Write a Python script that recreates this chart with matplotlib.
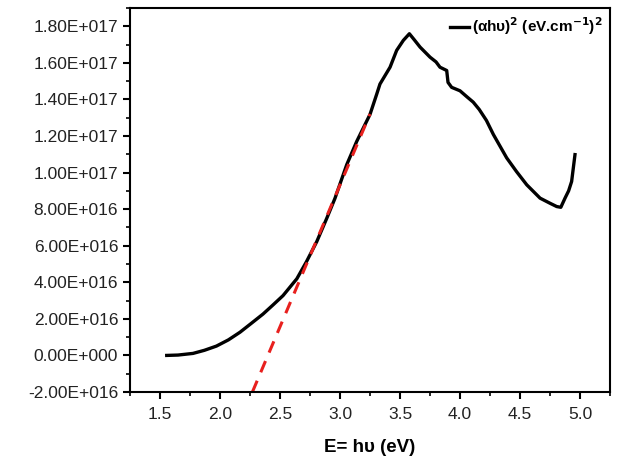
import matplotlib
matplotlib.use("Agg")
import matplotlib.pyplot as plt
from matplotlib.ticker import MultipleLocator, FuncFormatter

plt.rcParams['font.family'] = ['Liberation Sans', 'DejaVu Sans']

# Data
energy = [1.556, 1.65, 1.775, 1.87, 1.97, 2.07, 2.167, 2.26, 2.358, 2.44, 2.525,
          2.64, 2.72, 2.806, 2.889, 2.958, 3.056, 3.139, 3.25, 3.306, 3.333,
          3.417, 3.472, 3.528, 3.578, 3.62, 3.667, 3.75, 3.80, 3.833, 3.889,
          3.90, 3.93, 4.0, 4.056, 4.11, 4.16, 4.22, 4.278, 4.389, 4.47,
          4.556, 4.667, 4.75, 4.806, 4.84, 4.875, 4.905, 4.93, 4.958]
alpha_hv2 = [0.0, 0.2e15, 1.1e15, 2.8e15, 5.1e15, 8.5e15, 12.7e15, 17.5e15,
             22.6e15, 27.5e15, 32.7e15, 41.9e15, 51.2e15, 62.2e15, 74.9e15,
             85.9e15, 104.3e15, 117e15, 131.8e15, 142.9e15, 148.4e15, 157.6e15,
             166.8e15, 172.3e15, 175.9e15, 172.5e15, 168.6e15, 163.1e15, 160.5e15,
             157.6e15, 155.8e15, 149.3e15, 146.6e15, 144.7e15, 141.5e15, 138.5e15,
             134.5e15, 128.5e15, 120.8e15, 108e15, 100.6e15, 93.3e15,
             86e15, 83.2e15, 81.4e15, 81.0e15, 86e15, 90e15, 95.1e15, 109.8e15]
fit_x = [2.27, 3.25]
fit_y = [-2.0e16, 1.32e17]

fig = plt.figure(figsize=(6.17, 4.68), dpi=100)
ax = fig.add_axes([0.2107, 0.1624, 0.7780, 0.8206])

ax.plot(energy, alpha_hv2, color='black', lw=2.4, solid_joinstyle='round',
        label='(αhυ)$^\\mathbf{2}$ (eV.cm$^\\mathbf{-1}$)$^\\mathbf{2}$')
ax.plot(fit_x, fit_y, color='#e8201e', lw=2.2, ls=(0, (4, 3)))

ax.set_xlim(1.25, 5.25)
ax.set_ylim(-2.0e16, 1.9e17)
ax.xaxis.set_major_locator(MultipleLocator(0.5))
ax.xaxis.set_minor_locator(MultipleLocator(0.25))
ax.yaxis.set_major_locator(MultipleLocator(2e16))
ax.yaxis.set_minor_locator(MultipleLocator(1e16))

def yfmt(v, pos):
    if abs(v) < 1:
        return '0.00E+000'
    s = '%.2E' % v
    mant, ex = s.split('E')
    sign = ex[0]
    num = int(ex[1:])
    return '%sE%s%03d' % (mant, sign, num)

ax.yaxis.set_major_formatter(FuncFormatter(yfmt))
ax.xaxis.set_major_formatter(FuncFormatter(lambda v, p: '%.1f' % v))

ax.tick_params(axis='both', which='major', direction='out', length=5, width=1.5,
               labelsize=12.5, colors='black', labelcolor='#222222')
ax.tick_params(axis='both', which='minor', direction='out', length=3, width=1.2)
ax.tick_params(axis='x', pad=6)
for sp in ax.spines.values():
    sp.set_linewidth(1.5)

ax.set_xlabel('E= hυ (eV)', fontsize=13.5, fontweight='bold', labelpad=12)

leg = ax.legend(loc='upper right', frameon=False,
                prop={'weight': 'bold', 'size': 11}, handlelength=1.2,
                handletextpad=0.2, borderaxespad=0.1)

fig.savefig('out.png', dpi=100)
